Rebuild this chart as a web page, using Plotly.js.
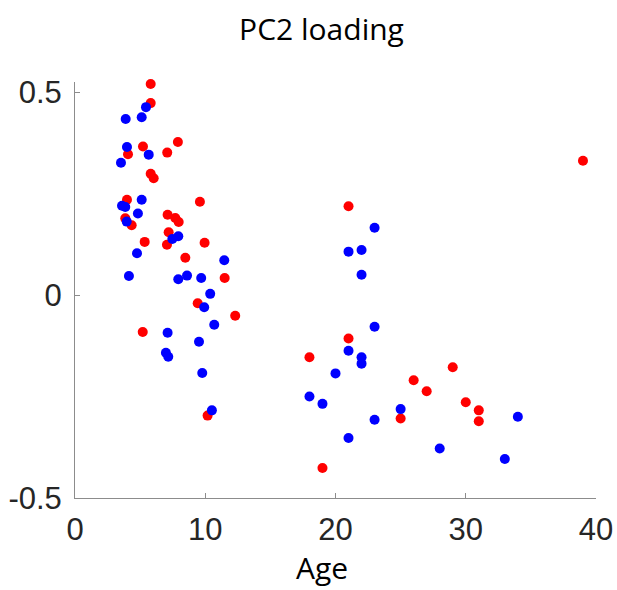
<!DOCTYPE html>
<html>
<head>
<meta charset="utf-8">
<script src="https://cdn.plot.ly/plotly-3.0.1.min.js"></script>
<style>html,body{margin:0;padding:0;background:#fff;}#plot{width:617px;height:590px;}</style>
</head>
<body>
<div id="plot"></div>
<script>
// Red group
const redAge = [5.81, 5.81, 7.90, 5.22, 4.07, 7.08, 5.81, 6.04, 3.99, 9.59, 7.11, 7.70, 7.96, 3.86, 4.35, 7.19, 5.35, 7.06, 9.95, 8.47, 11.49, 9.42, 12.30, 5.20, 10.18,
                21, 21, 18, 29, 26, 27, 30, 31, 25, 31, 19, 39];
const redPC2 = [0.520, 0.473, 0.377, 0.366, 0.347, 0.351, 0.299, 0.288, 0.235, 0.230, 0.198, 0.190, 0.180, 0.189, 0.172, 0.155, 0.131, 0.124, 0.129, 0.092, 0.042, -0.020, -0.051, -0.091, -0.297,
                0.219, -0.107, -0.153, -0.178, -0.210, -0.237, -0.264, -0.284, -0.304, -0.311, -0.426, 0.331];
// Blue group
const blueAge = [5.45, 3.89, 5.12, 3.99, 5.66, 3.53, 5.12, 3.61, 3.86, 4.83, 3.97, 7.93, 7.47, 4.76, 11.46, 4.14, 7.93, 8.60, 9.69, 10.38, 9.92, 10.69, 7.11, 9.52, 6.98, 7.16, 9.77, 10.51,
                 23, 21, 22, 22, 23, 21, 22, 22, 20, 18, 19, 25, 34, 23, 21, 28, 33];
const bluePC2 = [0.463, 0.434, 0.438, 0.365, 0.346, 0.326, 0.235, 0.220, 0.217, 0.201, 0.181, 0.145, 0.138, 0.103, 0.086, 0.047, 0.039, 0.048, 0.042, 0.003, -0.030, -0.073, -0.093, -0.115, -0.142, -0.152, -0.192, -0.284,
                 0.166, 0.107, 0.111, 0.050, -0.078, -0.137, -0.153, -0.169, -0.193, -0.250, -0.268, -0.281, -0.300, -0.307, -0.352, -0.378, -0.404];
const xTicks = [0, 10, 20, 30, 40];
const yTicks = [-0.5, 0, 0.5];
const yTickText = ['-0.5', '0', '0.5'];

const traces = [
  {x: redAge, y: redPC2, type: 'scatter', mode: 'markers', cliponaxis: false, marker: {color: '#ff0000', size: 10}, hoverinfo: 'x+y'},
  {x: blueAge, y: bluePC2, type: 'scatter', mode: 'markers', cliponaxis: false, marker: {color: '#0000ff', size: 10}, hoverinfo: 'x+y'}
];

const axisCommon = {
  showgrid: false, zeroline: false, showline: true, linecolor: '#8c8c8c', linewidth: 1,
  ticks: 'inside', ticklen: 5, tickcolor: '#8c8c8c', tickwidth: 1,
  tickfont: {family: 'Liberation Sans, Arial, sans-serif', size: 31, color: '#262626'}
};

const plotL = 75, plotR = 596, plotT = 82, plotB = 498;
const layout = {
  width: 617, height: 590,
  margin: {l: plotL, r: 617 - plotR, t: plotT, b: 590 - plotB, pad: 0},
  paper_bgcolor: '#ffffff', plot_bgcolor: '#ffffff',
  showlegend: false,
  title: {text: 'PC2 loading', font: {family: 'Open Sans, sans-serif', size: 30, color: '#000000'},
          x: (321.5 - plotL) / (plotR - plotL), xref: 'paper', xanchor: 'center', y: 1 - 29 / 590, yref: 'container', yanchor: 'middle'},
  xaxis: Object.assign({}, axisCommon, {range: [0, 40], tickvals: xTicks, ticktext: xTicks.map(String), ticklabelstandoff: 4}),
  yaxis: Object.assign({}, axisCommon, {range: [-0.5, 0.525], tickvals: yTicks, ticktext: yTickText, ticklabelstandoff: 6}),
  annotations: [{text: 'Age', xref: 'paper', yref: 'paper',
                 x: (322 - plotL) / (plotR - plotL), y: (plotB - 567) / (plotB - plotT),
                 xanchor: 'center', yanchor: 'middle', showarrow: false,
                 font: {family: 'Open Sans, sans-serif', size: 30, color: '#000000'}}]
};

Plotly.newPlot('plot', traces, layout, {staticPlot: true, displayModeBar: false});
</script>
</body>
</html>
